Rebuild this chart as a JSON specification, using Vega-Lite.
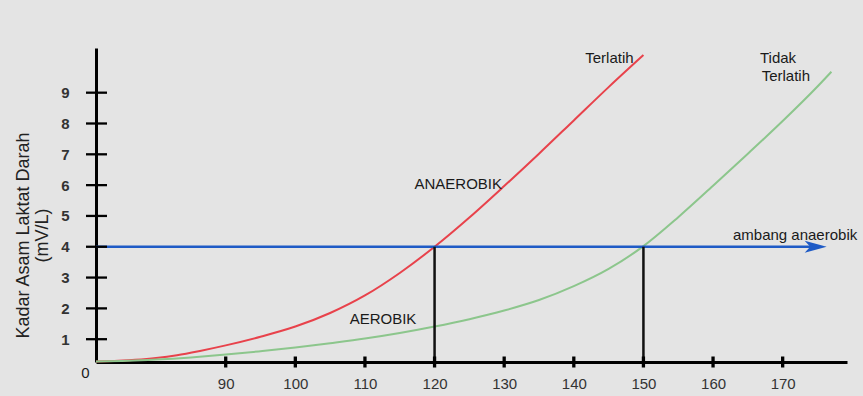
{
  "$schema": "https://vega.github.io/schema/vega-lite/v6.json",
  "width": 751,
  "height": 314,
  "autosize": {"type": "none"},
  "padding": {"left": 96, "top": 48, "right": 16, "bottom": 34},
  "background": "#e4e4e4",
  "config": {"view": {"stroke": null}, "font": "Liberation Sans"},
  "datasets": {
    "curves": [
      {"series": "Terlatih", "x": 71.37, "y": 0.28},
      {"series": "Terlatih", "x": 74, "y": 0.29},
      {"series": "Terlatih", "x": 77, "y": 0.33},
      {"series": "Terlatih", "x": 80, "y": 0.39},
      {"series": "Terlatih", "x": 83, "y": 0.48},
      {"series": "Terlatih", "x": 86.3, "y": 0.62},
      {"series": "Terlatih", "x": 90, "y": 0.8},
      {"series": "Terlatih", "x": 95, "y": 1.08},
      {"series": "Terlatih", "x": 100, "y": 1.41},
      {"series": "Terlatih", "x": 105, "y": 1.85},
      {"series": "Terlatih", "x": 110, "y": 2.42},
      {"series": "Terlatih", "x": 115, "y": 3.15},
      {"series": "Terlatih", "x": 120, "y": 4.0},
      {"series": "Terlatih", "x": 125, "y": 4.95},
      {"series": "Terlatih", "x": 130, "y": 5.97},
      {"series": "Terlatih", "x": 135, "y": 7.02},
      {"series": "Terlatih", "x": 140, "y": 8.1},
      {"series": "Terlatih", "x": 145, "y": 9.18},
      {"series": "Terlatih", "x": 150, "y": 10.22},
      {"series": "Tidak Terlatih", "x": 71.37, "y": 0.28},
      {"series": "Tidak Terlatih", "x": 76, "y": 0.3},
      {"series": "Tidak Terlatih", "x": 80, "y": 0.34},
      {"series": "Tidak Terlatih", "x": 85, "y": 0.41},
      {"series": "Tidak Terlatih", "x": 90, "y": 0.5},
      {"series": "Tidak Terlatih", "x": 95, "y": 0.61},
      {"series": "Tidak Terlatih", "x": 100, "y": 0.73},
      {"series": "Tidak Terlatih", "x": 105, "y": 0.87},
      {"series": "Tidak Terlatih", "x": 110, "y": 1.02},
      {"series": "Tidak Terlatih", "x": 115, "y": 1.2},
      {"series": "Tidak Terlatih", "x": 120, "y": 1.41},
      {"series": "Tidak Terlatih", "x": 125, "y": 1.65},
      {"series": "Tidak Terlatih", "x": 130, "y": 1.93},
      {"series": "Tidak Terlatih", "x": 135, "y": 2.27},
      {"series": "Tidak Terlatih", "x": 140, "y": 2.72},
      {"series": "Tidak Terlatih", "x": 145, "y": 3.28},
      {"series": "Tidak Terlatih", "x": 150, "y": 4.02},
      {"series": "Tidak Terlatih", "x": 155, "y": 4.96},
      {"series": "Tidak Terlatih", "x": 160, "y": 5.98},
      {"series": "Tidak Terlatih", "x": 165, "y": 7.02},
      {"series": "Tidak Terlatih", "x": 170, "y": 8.08},
      {"series": "Tidak Terlatih", "x": 175, "y": 9.2},
      {"series": "Tidak Terlatih", "x": 177, "y": 9.68}
    ],
    "yticks": [
      {"x": 71.37, "x2": 71.37, "y": 1}, {"x": 71.37, "x2": 71.37, "y": 2}, {"x": 71.37, "x2": 71.37, "y": 3},
      {"x": 71.37, "x2": 71.37, "y": 4}, {"x": 71.37, "x2": 71.37, "y": 5}, {"x": 71.37, "x2": 71.37, "y": 6},
      {"x": 71.37, "x2": 71.37, "y": 7}, {"x": 71.37, "x2": 71.37, "y": 8}, {"x": 71.37, "x2": 71.37, "y": 9}
    ],
    "xticks": [
      {"x": 90, "y": 0.26, "y2": 0.26}, {"x": 100, "y": 0.26, "y2": 0.26}, {"x": 110, "y": 0.26, "y2": 0.26},
      {"x": 120, "y": 0.26, "y2": 0.26}, {"x": 130, "y": 0.26, "y2": 0.26}, {"x": 140, "y": 0.26, "y2": 0.26},
      {"x": 150, "y": 0.26, "y2": 0.26}, {"x": 160, "y": 0.26, "y2": 0.26}, {"x": 170, "y": 0.26, "y2": 0.26}
    ],
    "threshold": [{"x": 71.37, "x2": 174.0, "y": 4}],
    "arrowhead": [{"x": 174.74, "y": 4}],
    "drops": [{"x": 120, "y": 0.26, "y2": 4}, {"x": 150, "y": 0.26, "y2": 4}],
    "labelsCenter": [
      {"x": 145.12, "y": 10.13, "label": "Terlatih"},
      {"x": 123.4, "y": 6.05, "label": "ANAEROBIK"},
      {"x": 112.59, "y": 1.64, "label": "AEROBIK"},
      {"x": 69.86, "y": -0.11, "label": "0"}
    ],
    "labelsLeft": [
      {"x": 166.74, "y": 10.13, "label": "Tidak"},
      {"x": 166.98, "y": 9.53, "label": "Terlatih"},
      {"x": 162.86, "y": 4.37, "label": "ambang anaerobik"}
    ]
  },
  "encoding": {
    "x": {
      "field": "x",
      "type": "quantitative",
      "scale": {"domain": [71.37, 179.24], "nice": false, "zero": false},
      "axis": {
        "values": [90, 100, 110, 120, 130, 140, 150, 160, 170],
        "ticks": false,
        "grid": false,
        "domainColor": "#000000",
        "domainWidth": 3,
        "labelFontSize": 15,
        "labelColor": "#333333",
        "labelPadding": 14,
        "title": null
      }
    },
    "y": {
      "field": "y",
      "type": "quantitative",
      "scale": {"domain": [0.26, 10.45], "nice": false, "zero": false},
      "axis": {
        "values": [1, 2, 3, 4, 5, 6, 7, 8, 9],
        "ticks": false,
        "grid": false,
        "domainColor": "#000000",
        "domainWidth": 3,
        "labelFontSize": 15,
        "labelFontWeight": "bold",
        "labelColor": "#333333",
        "labelPadding": 27,
        "title": ["Kadar Asam Laktat Darah", "(mV/L)"],
        "titleFontSize": 18,
        "titleFontWeight": "normal",
        "titleColor": "#222222",
        "titleAngle": -90,
        "titleAlign": "center",
        "titleBaseline": "top",
        "titleX": -82,
        "titleY": 187,
        "titleLineHeight": 19
      }
    }
  },
  "layer": [
    {
      "data": {"name": "curves"},
      "mark": {"type": "line", "interpolate": "monotone", "strokeWidth": 2},
      "encoding": {
        "color": {
          "field": "series",
          "type": "nominal",
          "scale": {"domain": ["Terlatih", "Tidak Terlatih"], "range": ["#e8424b", "#8cc68c"]},
          "legend": null
        }
      }
    },
    {
      "data": {"name": "threshold"},
      "mark": {"type": "rule", "color": "#1f5bc6", "strokeWidth": 2.5},
      "encoding": {"x2": {"field": "x2"}}
    },
    {
      "data": {"name": "arrowhead"},
      "mark": {"type": "point", "shape": "M-1,-0.55L1,0L-1,0.55L-0.5,0Z", "filled": true, "color": "#1f5bc6", "opacity": 1, "size": 484, "strokeWidth": 0}
    },
    {
      "data": {"name": "drops"},
      "mark": {"type": "rule", "color": "#111111", "strokeWidth": 2.5},
      "encoding": {"y2": {"field": "y2"}}
    },
    {
      "data": {"name": "yticks"},
      "mark": {"type": "rule", "color": "#000000", "strokeWidth": 2.3, "xOffset": -10, "x2Offset": 11},
      "encoding": {"x2": {"field": "x2"}}
    },
    {
      "data": {"name": "xticks"},
      "mark": {"type": "rule", "color": "#000000", "strokeWidth": 3.3, "yOffset": 5.5, "y2Offset": -5.5},
      "encoding": {"y2": {"field": "y2"}}
    },
    {
      "data": {"name": "labelsCenter"},
      "mark": {"type": "text", "fontSize": 15, "color": "#1a1a1a", "align": "center", "baseline": "middle"},
      "encoding": {"text": {"field": "label"}}
    },
    {
      "data": {"name": "labelsLeft"},
      "mark": {"type": "text", "fontSize": 15, "color": "#1a1a1a", "align": "left", "baseline": "middle"},
      "encoding": {"text": {"field": "label"}}
    }
  ]
}
